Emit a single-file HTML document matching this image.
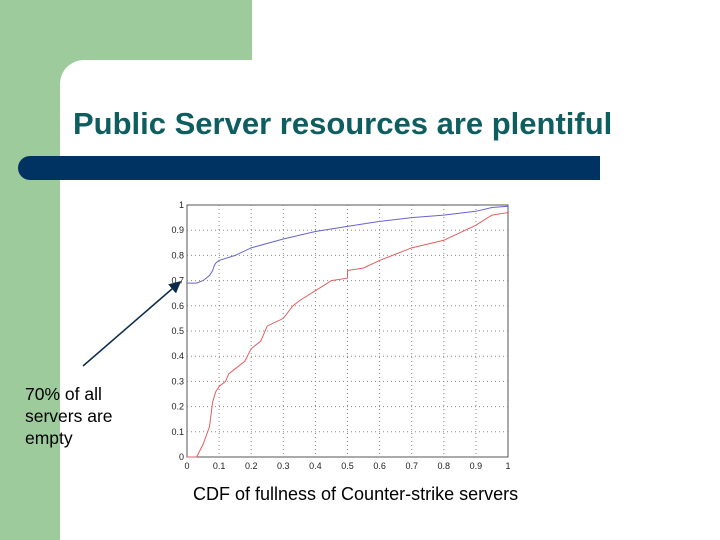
<!DOCTYPE html>
<html><head><meta charset="utf-8"><style>
body{margin:0;width:720px;height:540px;overflow:hidden;background:#fff;font-family:"Liberation Sans",sans-serif;position:relative}
.abs{position:absolute}
</style></head><body>
<div class="abs" style="left:0;top:0;width:252px;height:60px;background:#9dcb9b"></div>
<div class="abs" style="left:0;top:0;width:60px;height:540px;background:#9dcb9b"></div>
<div class="abs" style="left:60px;top:60px;width:30px;height:30px;background:#9dcb9b"></div>
<div class="abs" style="left:60px;top:60px;width:60px;height:60px;background:#fff;border-top-left-radius:24px"></div>
<div class="abs" style="left:73px;top:106px;font-size:31px;font-weight:bold;color:#0e5e60;white-space:nowrap">Public Server resources are plentiful</div>
<div class="abs" style="left:18px;top:156px;width:582px;height:24px;background:#003361;border-radius:12px 0 0 12px"></div>
<svg class="abs" style="left:0;top:0" width="720" height="540">
<defs><marker id="ah" markerWidth="8" markerHeight="8" refX="7" refY="4" orient="auto"><path d="M0,0 L8,4 L0,8z" fill="#0a2a4a"/></marker></defs>
<g id="grid"></g><g id="series"></g><g id="ticks"></g>
<line x1="83" y1="366" x2="180" y2="282" stroke="#0a2a4a" stroke-width="1.5" marker-end="url(#ah)"/>
</svg>
<div class="abs" style="left:25px;top:383px;font-size:17.5px;line-height:22px;color:#000">70% of all<br>servers are<br>empty</div>
<div class="abs" style="left:193px;top:484px;font-size:18px;color:#000;white-space:nowrap">CDF of fullness of Counter-strike servers</div>
<script>
const xTicks=[0,0.1,0.2,0.3,0.4,0.5,0.6,0.7,0.8,0.9,1];
const yTicks=[0,0.1,0.2,0.3,0.4,0.5,0.6,0.7,0.8,0.9,1];
const xTickLabels=["0","0.1","0.2","0.3","0.4","0.5","0.6","0.7","0.8","0.9","1"];
const yTickLabels=["0","0.1","0.2","0.3","0.4","0.5","0.6","0.7","0.8","0.9","1"];
const blueX=[0,0.03,0.05,0.07,0.08,0.085,0.09,0.1,0.15,0.2,0.3,0.4,0.5,0.6,0.7,0.8,0.9,0.95,1];
const blueY=[0.69,0.69,0.70,0.72,0.74,0.76,0.77,0.78,0.80,0.83,0.865,0.895,0.915,0.935,0.95,0.96,0.975,0.99,0.995];
const redX=[0,0.03,0.05,0.07,0.08,0.09,0.1,0.12,0.13,0.15,0.18,0.2,0.23,0.25,0.3,0.33,0.35,0.4,0.45,0.5,0.5,0.55,0.6,0.7,0.8,0.9,0.95,1];
const redY=[0,0,0.05,0.12,0.22,0.26,0.28,0.30,0.33,0.35,0.38,0.43,0.46,0.52,0.55,0.6,0.62,0.66,0.70,0.71,0.74,0.75,0.78,0.83,0.86,0.92,0.96,0.97];
const L=187,R=508,T=205,B=457;
const sx=v=>L+v*(R-L), sy=v=>B-v*(B-T);
const NS="http://www.w3.org/2000/svg";
function mk(t,a,p){const e=document.createElementNS(NS,t);for(const k in a)e.setAttribute(k,a[k]);p.appendChild(e);return e;}
const grid=document.getElementById('grid'),ticks=document.getElementById('ticks'),ser=document.getElementById('series');
const bg=mk('rect',{x:L,y:T,width:R-L,height:B-T,fill:'#fff',stroke:'#555','stroke-width':1},grid);


xTicks.forEach((v,i)=>{
 if(i>0&&i<xTicks.length-1){const g=mk('line',{x1:sx(v),x2:sx(v),y1:T,y2:B,stroke:'#888','stroke-dasharray':'1,3'},grid);
 
 }
 const t=mk('text',{x:sx(v),y:B+12,'font-size':9,'text-anchor':'middle',fill:'#222','font-family':'Liberation Sans, sans-serif'},ticks);
 t.textContent=xTickLabels[i];
 
 
});
yTicks.forEach((v,i)=>{
 if(i>0&&i<yTicks.length-1){const g=mk('line',{x1:L,x2:R,y1:sy(v),y2:sy(v),stroke:'#888','stroke-dasharray':'1,3'},grid);
 
 }
 const t=mk('text',{x:L-3,y:sy(v)+3,'font-size':9,'text-anchor':'end',fill:'#222','font-family':'Liberation Sans, sans-serif'},ticks);
 t.textContent=yTickLabels[i];
 
 
});
function linePath(xs,ys){let d='M'+sx(xs[0])+','+sy(ys[0]);for(let i=1;i<xs.length;i++){d+=' L'+sx(xs[i])+','+sy(ys[i]);}return d;}
const pb=mk('path',{d:linePath(blueX,blueY),fill:'none',stroke:'#6666cc','stroke-width':1},ser);


const pr=mk('path',{d:linePath(redX,redY),fill:'none',stroke:'#e06060','stroke-width':1},ser);


</script>
</body></html>
